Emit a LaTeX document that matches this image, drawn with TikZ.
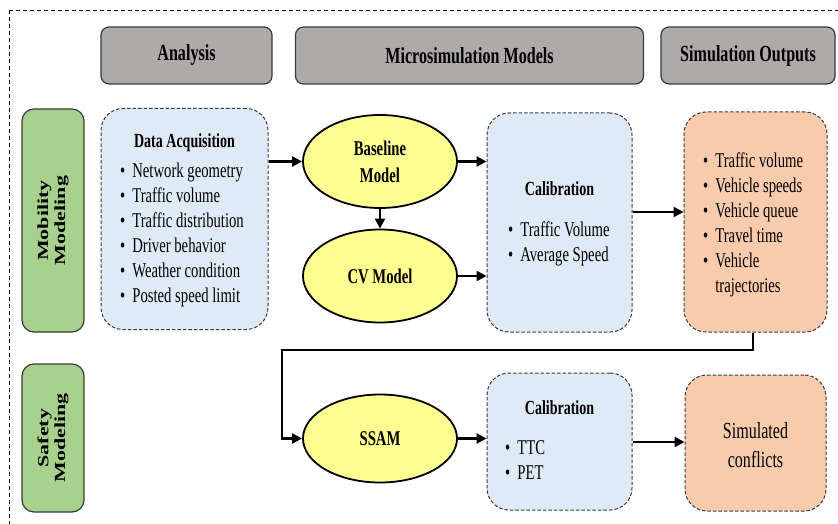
\documentclass[tikz,border=0pt]{standalone}
\usepackage{fontspec}
\setmainfont[FakeStretch=0.7]{Liberation Serif}
\newfontfamily\plainserif{Liberation Serif}
\usetikzlibrary{arrows.meta,shapes.geometric}
\definecolor{hdrgray}{HTML}{AEAAAA}
\definecolor{grn}{HTML}{A9D18E}
\definecolor{blu}{HTML}{DEEBF7}
\definecolor{org}{HTML}{F8CBAD}
\definecolor{yel}{HTML}{FFFF91}
\definecolor{edge}{HTML}{3A3A3A}
\tikzset{
  hdr/.style={draw=edge, line width=1.2pt, fill=hdrgray, rounded corners=8pt, font=\bfseries\fontsize{23}{26}\selectfont},
  side/.style={draw=edge, line width=1.2pt, fill=grn, rounded corners=12pt},
  sidetxt/.style={xscale=0.7, rotate=90, align=center, font=\plainserif\bfseries\fontsize{22}{24}\selectfont},
  dbox/.style={draw=edge, line width=1pt, dash pattern=on 3.5pt off 2pt, rounded corners=22pt},
  ell/.style={ellipse, draw=black, line width=1.8pt, fill=yel, align=center, font=\bfseries\fontsize{21}{27}\selectfont},
  txt/.style={font=\fontsize{21}{25}\selectfont, align=left, inner sep=0pt},
  ttl/.style={font=\bfseries\fontsize{20}{24}\selectfont, inner sep=0pt},
  arr/.style={line width=2.2pt, -{Triangle[length=10pt,width=10pt]}},
}
\newcommand{\bul}{\textbullet\hspace{7pt}}
\begin{document}
\begin{tikzpicture}[x=1pt,y=-1pt]
\useasboundingbox (0,0) rectangle (838,524);
\draw[line width=0.8pt, dash pattern=on 4pt off 3pt] (9,10) rectangle (860,540);
% headers
\node[hdr, minimum width=171, minimum height=57] (an) at (186.5,55.5) {Analysis};
\node[hdr, minimum width=348, minimum height=57] (ms) at (469.5,55.5) {Microsimulation Models};
\node[hdr, minimum width=174, minimum height=57] (so) at (748,55.5) {Simulation Outputs};
% side boxes
\node[side, minimum width=62, minimum height=223] (mob) at (53,220.5) {};
\node[sidetxt] (mobt) at (mob.center) {Mobility\\Modeling};
\node[side, minimum width=62, minimum height=148] (saf) at (53,438) {};
\node[sidetxt] (saft) at (saf.center) {Safety\\Modeling};
% data acquisition
\node[dbox, fill=blu, minimum width=167, minimum height=221] (da) at (184.5,219) {};
\node[ttl] (dat) at (184.5,143) {Data Acquisition};
\node[txt, anchor=north west] (dal) at (120,162.5) {\bul Network geometry\\ \bul Traffic volume\\ \bul Traffic distribution\\ \bul Driver behavior\\ \bul Weather condition\\ \bul Posted speed limit};
% ellipses
\node[ell, minimum width=154, minimum height=93] (bl) at (380,161.5) {Baseline\\Model};
\node[ell, minimum width=154, minimum height=93] (cv) at (380,276) {CV Model};
\node[ell, minimum width=154, minimum height=88] (ss) at (380,438.5) {SSAM};
% calibration 1
\node[dbox, fill=blu, minimum width=145, minimum height=219] (c1) at (559.5,222.5) {};
\node[ttl] (c1t) at (559.5,189) {Calibration};
\node[txt, anchor=north west] (c1l) at (508,221.5) {\bul Traffic Volume\\ \bul Average Speed};
% output 1
\node[dbox, fill=org, minimum width=143, minimum height=220] (o1) at (755.5,222) {};
\node[txt, anchor=north west] (o1l) at (703,152.5) {\bul Traffic volume\\ \bul Vehicle speeds\\ \bul Vehicle queue\\ \bul Travel time\\ \bul Vehicle\\ \phantom{\bul}trajectories};
% calibration 2
\node[dbox, fill=blu, minimum width=145, minimum height=137] (c2) at (559.5,441.5) {};
\node[ttl] (c2t) at (559.5,408) {Calibration};
\node[txt, anchor=north west] (c2l) at (505,440.5) {\bul TTC\\ \bul PET};
% output 2
\node[dbox, fill=org, minimum width=141, minimum height=136] (o2) at (755.5,443) {};
\node[font=\fontsize{23}{29}\selectfont, align=center] (o2t) at (755.5,445) {Simulated\\conflicts};
% connectors
\draw[arr] (da.east |- bl.west) -- (bl.west);
\draw[arr] (bl.south) -- (cv.north);
\draw[arr] (bl.east) -- (bl.east -| c1.west);
\draw[arr] (cv.east) -- (cv.east -| c1.west);
\draw[arr] (c1.east |- {(0,212)}) -- (o1.west |- {(0,212)});
\coordinate (k1) at (282,350);
\draw[arr] (o1.south -| {(753,0)}) |- (k1) |- (ss.west);
\draw[arr] (ss.east) -- (ss.east -| c2.west);
\draw[arr] (c2.east |- {(0,442)}) -- (o2.west |- {(0,442)});
\end{tikzpicture}
\end{document}
